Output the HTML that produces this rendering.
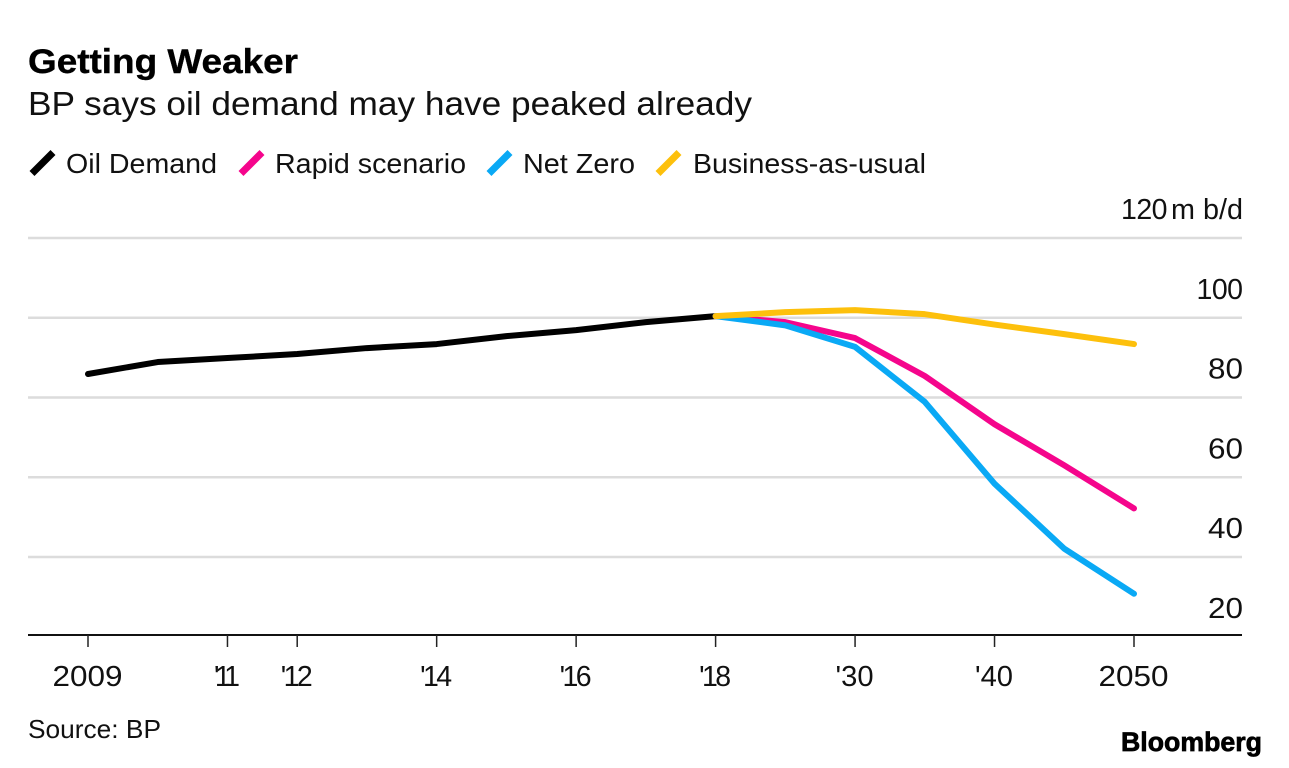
<!DOCTYPE html>
<html>
<head>
<meta charset="utf-8">
<title>Getting Weaker</title>
<style>
html,body{margin:0;padding:0;background:#fff;}
body{width:1289px;height:768px;overflow:hidden;}
svg{display:block;}
text{font-family:"Liberation Sans",sans-serif;fill:#111;}
</style>
</head>
<body>
<svg id="chart" xmlns="http://www.w3.org/2000/svg" width="1289" height="768" viewBox="0 0 1289 768">
  <text x="28" y="73" font-size="34" font-weight="700" textLength="270" lengthAdjust="spacingAndGlyphs" style="fill:#000;stroke:#000;stroke-width:0.4px">Getting Weaker</text>
  <text x="28" y="115" font-size="33" textLength="724" lengthAdjust="spacingAndGlyphs">BP says oil demand may have peaked already</text>

  <g>
    <line x1="32" y1="173.5" x2="53" y2="152.5" stroke="#000000" stroke-width="7"/>
    <text x="66" y="173" font-size="28" textLength="151" lengthAdjust="spacingAndGlyphs">Oil Demand</text>
    <line x1="241" y1="173.5" x2="262" y2="152.5" stroke="#f5058c" stroke-width="7"/>
    <text x="275" y="173" font-size="28" textLength="191" lengthAdjust="spacingAndGlyphs">Rapid scenario</text>
    <line x1="489" y1="173.5" x2="510" y2="152.5" stroke="#0aa9f5" stroke-width="7"/>
    <text x="523" y="173" font-size="28" textLength="112" lengthAdjust="spacingAndGlyphs">Net Zero</text>
    <line x1="658" y1="173.5" x2="679" y2="152.5" stroke="#fdc00c" stroke-width="7"/>
    <text x="693" y="173" font-size="28" textLength="233" lengthAdjust="spacingAndGlyphs">Business-as-usual</text>
  </g>

  <g id="grid"></g>
  <g id="y-labels"></g>
  <line x1="28" y1="635" x2="1242" y2="635" stroke="#111" stroke-width="2"/>
  <g id="x-ticks"></g>
  <g id="series"></g>

  <text x="28" y="738" font-size="26" textLength="133" lengthAdjust="spacingAndGlyphs">Source: BP</text>
  <text x="1121" y="751" font-size="27" font-weight="700" textLength="141" lengthAdjust="spacingAndGlyphs" style="fill:#000;stroke:#000;stroke-width:0.7px">Bloomberg</text>
</svg>
<script>
// Data
const categories = ["2009","2010","2011","2012","2013","2014","2015","2016","2017","2018","2025","2030","2035","2040","2045","2050"];
const xTickLabels = {"2009":"2009","2011":"'11","2012":"'12","2014":"'14","2016":"'16","2018":"'18","2030":"'30","2040":"'40","2050":"2050"};
const yTicks = [120,100,80,60,40,20];
const yUnit = "m b/d";
const oilDemand = [85.9,88.9,89.9,90.9,92.4,93.4,95.4,96.9,98.9,100.4];
const scenarioStart = 9;
const rapidScenario = [100.4,98.9,94.9,85.4,73.3,63.0,52.2];
const netZero = [100.4,98.1,92.7,78.9,58.4,42.1,30.8];
const businessAsUsual = [100.4,101.4,101.9,100.9,98.3,95.9,93.4];

// Axis functions
const NS = "http://www.w3.org/2000/svg";
function xScale(i){ return 88 + i * (1134 - 88) / (categories.length - 1); }
function yScale(v){ return 636.8 - (v - 20) * (636.8 - 238) / (120 - 20); }
// The reference face has a narrow "1" and wide digits, so label widths are set per glyph.
function labelWidth(s){
  let w = 0;
  for (const ch of String(s)) { w += ch === "'" ? 3 : (ch === "1" ? 11.5 : 17.5); }
  return w;
}
// Labels containing "1" tighten their spacing; the others widen their glyphs.
function labelAdjust(s){ return String(s).includes("1") ? "spacing" : "spacingAndGlyphs"; }

const grid = document.getElementById("grid");


const yLabels = document.getElementById("y-labels");


yTicks.forEach(function(t){
  const y = yScale(t);
  if (t !== 20) {
    const g = document.createElementNS(NS, "line");
    
    
    g.setAttribute("x1", 28);
    g.setAttribute("x2", 1242);
    g.setAttribute("y1", y);
    g.setAttribute("y2", y);
    g.setAttribute("stroke", "#dcdcdc");
    g.setAttribute("stroke-width", 2.5);
    grid.appendChild(g);
  }
  const lab = document.createElementNS(NS, "text");
  
  
  lab.setAttribute("y", y - 19);
  lab.setAttribute("font-size", 28.5);
  lab.setAttribute("lengthAdjust", labelAdjust(t));
  lab.setAttribute("textLength", labelWidth(t));
  lab.setAttribute("text-anchor", "end");
  lab.setAttribute("x", t === 120 ? 1167.5 : 1243);
  lab.textContent = t;
  yLabels.appendChild(lab);
  if (t === 120) {
    const unit = document.createElementNS(NS, "text");
    
    
    unit.setAttribute("y", y - 19);
    unit.setAttribute("x", 1171);
    unit.setAttribute("font-size", 28.5);
    unit.setAttribute("textLength", 72);
    unit.setAttribute("lengthAdjust", "spacingAndGlyphs");
    unit.textContent = yUnit;
    yLabels.appendChild(unit);
  }
});

const xTicks = document.getElementById("x-ticks");


categories.forEach(function(c, i){
  const text = xTickLabels[c];
  if (!text) return;
  const x = xScale(i);
  const tick = document.createElementNS(NS, "line");
  
  
  tick.setAttribute("x1", x);
  tick.setAttribute("x2", x);
  tick.setAttribute("y1", 635);
  tick.setAttribute("y2", 647);
  tick.setAttribute("stroke", "#222");
  tick.setAttribute("stroke-width", 1.5);
  xTicks.appendChild(tick);
  const lab = document.createElementNS(NS, "text");
  
  
  lab.setAttribute("x", x - 0.5);
  lab.setAttribute("y", 686);
  lab.setAttribute("font-size", 28.5);
  lab.setAttribute("text-anchor", "middle");
  lab.setAttribute("textLength", labelWidth(text));
  lab.setAttribute("lengthAdjust", labelAdjust(text));
  lab.textContent = text;
  xTicks.appendChild(lab);
});

const seriesGroup = document.getElementById("series");


function drawSeries(values, start, color, name){
  const pts = values.map(function(v, i){ return xScale(i + start).toFixed(2) + "," + yScale(v).toFixed(2); });
  const line = document.createElementNS(NS, "polyline");
  
  
  line.setAttribute("points", pts.join(" "));
  line.setAttribute("fill", "none");
  line.setAttribute("stroke", color);
  line.setAttribute("stroke-width", 6);
  line.setAttribute("stroke-linejoin", "round");
  line.setAttribute("stroke-linecap", "round");
  seriesGroup.appendChild(line);
}
drawSeries(oilDemand, 0, "#000000", "line-oil-demand");
drawSeries(rapidScenario, scenarioStart, "#f5058c", "line-rapid-scenario");
drawSeries(netZero, scenarioStart, "#0aa9f5", "line-net-zero");
drawSeries(businessAsUsual, scenarioStart, "#fdc00c", "line-business-as-usual");
</script>
</body>
</html>
